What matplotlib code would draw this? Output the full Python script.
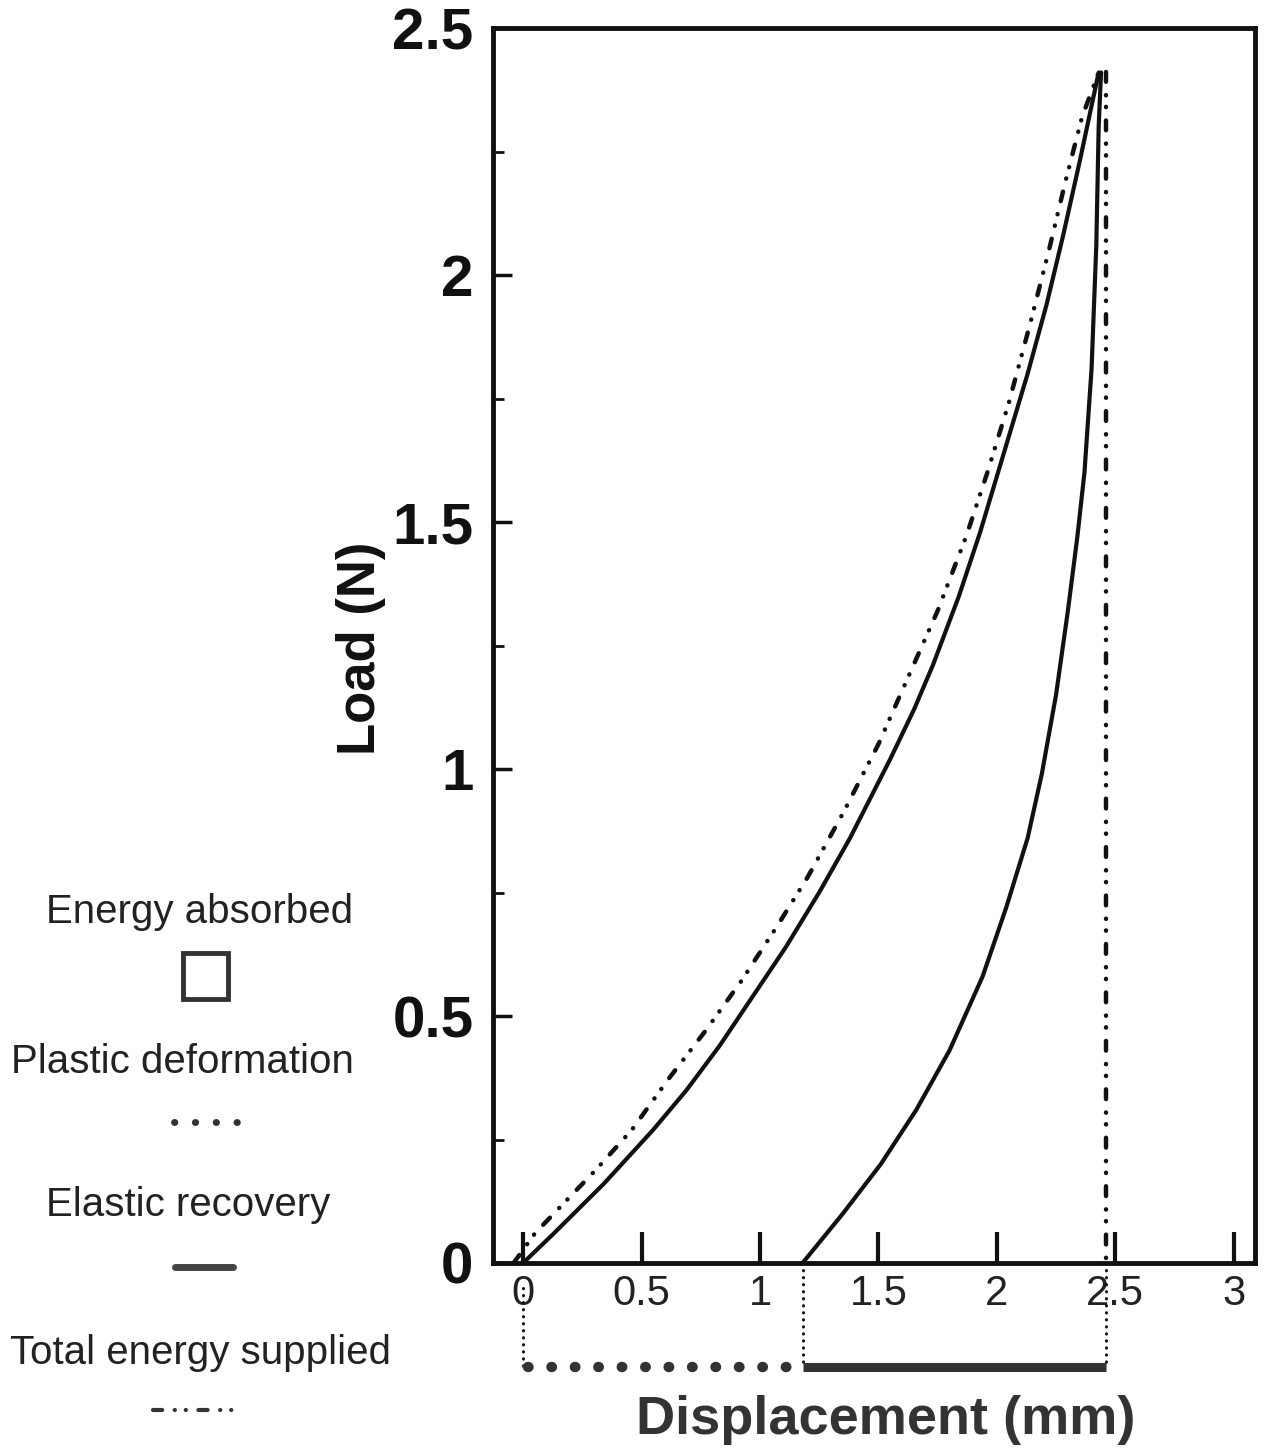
import numpy as np
import matplotlib
matplotlib.use("Agg")
import matplotlib.pyplot as plt
from matplotlib.patches import Rectangle

plt.rcParams["font.family"] = ["Liberation Sans", "DejaVu Sans"]

# loading curve (solid)
load_x = [0.0, 0.13, 0.34, 0.55, 0.69, 0.83, 0.97, 1.11, 1.25, 1.38, 1.55, 1.65, 1.73,
          1.84, 1.93, 2.03, 2.13, 2.21, 2.28, 2.35, 2.43]
load_y = [0.0, 0.06, 0.16, 0.27, 0.35, 0.44, 0.54, 0.64, 0.75, 0.86, 1.02, 1.12, 1.21,
          1.35, 1.48, 1.64, 1.80, 1.94, 2.08, 2.23, 2.41]

# unloading curve (solid)
unload_x = [1.18, 1.35, 1.51, 1.66, 1.80, 1.94, 2.04, 2.13, 2.19, 2.25, 2.30, 2.34, 2.37,
            2.40, 2.42, 2.43, 2.44]
unload_y = [0.0, 0.10, 0.20, 0.31, 0.43, 0.58, 0.72, 0.86, 0.99, 1.15, 1.32, 1.47, 1.60,
            1.81, 2.06, 2.30, 2.41]

# total energy supplied curve (dash-dot)
total_x = [-0.04, 0.05, 0.19, 0.31, 0.46, 0.61, 0.77, 0.92, 1.07, 1.20, 1.35, 1.50, 1.62,
           1.75, 1.87, 1.96, 2.05, 2.14, 2.22, 2.29, 2.36, 2.43]
total_y = [0.0, 0.06, 0.13, 0.19, 0.27, 0.37, 0.47, 0.57, 0.68, 0.78, 0.91, 1.05, 1.18,
           1.32, 1.47, 1.60, 1.74, 1.90, 2.05, 2.19, 2.32, 2.41]

peak_x, peak_y = 2.46, 2.41
residual_x = 1.18
bracket_y = -0.21

x_ticks = [0, 0.5, 1, 1.5, 2, 2.5, 3]
x_ticklabels = ["0", "0.5", "1", "1.5", "2", "2.5", "3"]
y_ticks = [0, 0.5, 1, 1.5, 2, 2.5]
y_ticklabels = ["0", "0.5", "1", "1.5", "2", "2.5"]

legend_labels = ["Energy absorbed", "Plastic deformation", "Elastic recovery", "Total energy supplied"]

W, H = 1273, 1456
fig = plt.figure(figsize=(W / 100, H / 100), dpi=100)
ax = fig.add_axes([493 / W, 1 - 1263 / H, (1255 - 493) / W, (1263 - 28) / H])

ink = "#111111"
dashdot = (0, (2.2, 3.0, 0.05, 2.6, 0.05, 3.0))

ax.plot(load_x, load_y, color=ink, lw=3.0, solid_capstyle="round", solid_joinstyle="round")
ax.plot(unload_x, unload_y, color=ink, lw=3.0, solid_capstyle="round", solid_joinstyle="round")
ax.plot(total_x, total_y, color=ink, lw=3.2, linestyle=dashdot, dash_capstyle="round")

# vertical line from the peak down
ax.plot([peak_x, peak_x], [peak_y, 0], color=ink, lw=3.2, linestyle=dashdot,
        dash_capstyle="round", clip_on=False)

# connectors and bracket below the axis
dot_thin = (0, (0.1, 2.2))
ax.plot([peak_x, peak_x], [0, bracket_y], color=ink, lw=2.2, linestyle=dot_thin,
        dash_capstyle="round", clip_on=False)
ax.plot([residual_x, residual_x], [0, bracket_y], color=ink, lw=2.2, linestyle=dot_thin,
        dash_capstyle="round", clip_on=False)
ax.plot([0, 0], [-0.05, bracket_y], color=ink, lw=2.2, linestyle=dot_thin,
        dash_capstyle="round", clip_on=False)
ax.plot([0.02, residual_x - 0.03], [bracket_y, bracket_y], color="#333333", lw=7.5,
        linestyle=(0, (0.05, 2.2)), dash_capstyle="round", clip_on=False)
ax.plot([residual_x, peak_x], [bracket_y, bracket_y], color="#333333", lw=6.5,
        solid_capstyle="butt", clip_on=False)

ax.set_xlim(-0.127, 3.09)
ax.set_ylim(0, 2.5)
ax.set_xticks(x_ticks)
ax.set_xticklabels(x_ticklabels, fontsize=30, color="#222222")
ax.set_yticks(y_ticks)
ax.set_yticklabels(y_ticklabels, fontsize=42, fontweight="bold", color="#111111")
ax.set_yticks(np.arange(0.25, 2.5, 0.5), minor=True)
ax.tick_params(axis="x", direction="in", length=22, width=3, pad=8, color=ink)
ax.tick_params(axis="y", direction="in", length=14, width=2.5, pad=14, color=ink)
ax.tick_params(axis="y", which="minor", direction="in", length=8, width=2, color=ink)
for s in ax.spines.values():
    s.set_linewidth(3.5)
    s.set_color(ink)

ax.set_ylabel("Load (N)", fontsize=38, fontweight="bold", color="#111111")
ax.yaxis.set_label_coords((386 - 493) / 762, (1263 - 648) / 1235)

# legend and x title drawn in pixel coordinates on an overlay
lg = fig.add_axes([0, 0, 1, 1], facecolor="none")
lg.set_xlim(0, W)
lg.set_ylim(H, 0)
lg.axis("off")
lg.text(886, 1420, "Displacement (mm)", fontsize=39, fontweight="bold", ha="center",
        va="center", color="#333333")
lg.text(200, 912, legend_labels[0], fontsize=29, ha="center", va="center", color="#222222")
lg.add_patch(Rectangle((183, 953), 45, 46, fill=False, lw=3.5, edgecolor="#333333"))
lg.text(182, 1062, legend_labels[1], fontsize=29, ha="center", va="center", color="#222222")
lg.plot([174, 237], [1122, 1122], color="#333333", lw=5, linestyle=(0, (0.05, 2.95)),
        dash_capstyle="round")
lg.text(188, 1205, legend_labels[2], fontsize=29, ha="center", va="center", color="#222222")
lg.plot([175, 233], [1267, 1267], color="#444444", lw=5, solid_capstyle="round")
lg.text(200, 1353, legend_labels[3], fontsize=29, ha="center", va="center", color="#222222")
lg.plot([153, 243], [1410, 1410], color="#333333", lw=3, linestyle=dashdot, dash_capstyle="round")

fig.savefig("out.png", dpi=100)
